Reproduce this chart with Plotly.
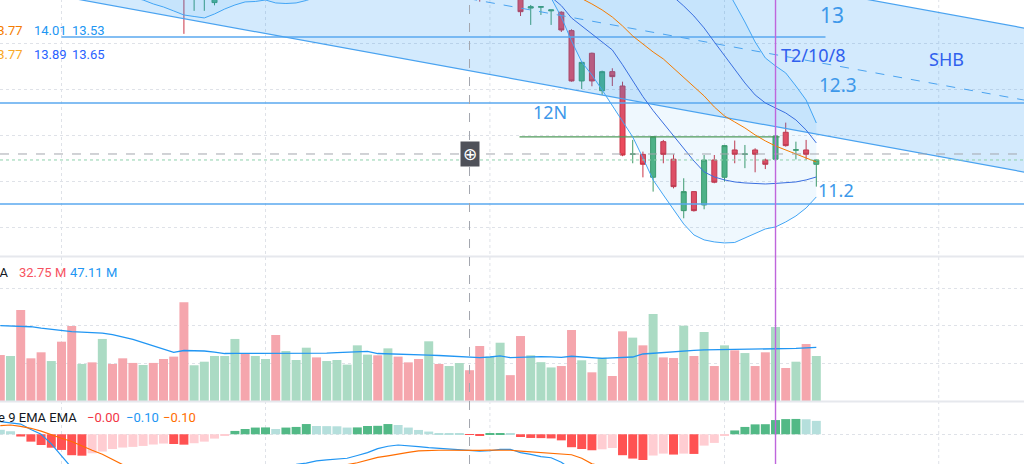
import plotly.graph_objects as go

W, H = 1024, 464

# ---- daily bars (index 0..80), prices ----
bars = list(range(81))
opens = [14.10, 14.02, 14.08, 13.92, 13.88, 13.80, 13.90, 13.80, 13.68, 13.76,
         13.70, 13.86, 13.82, 13.76, 13.70, 13.76, 13.72, 13.68, 13.62, 13.52,
         13.56, 13.45, 13.62, 13.70, 13.86, 13.78, 13.82, 13.90, 13.74, 13.80,
         13.84, 13.96, 13.86, 13.90, 13.92, 13.90, 13.98, 14.02, 13.90, 14.00,
         13.90, 13.84, 13.74, 13.86, 13.78, 13.80, 13.84, 13.78, 13.62, 13.66,
         13.74, 13.62, 13.39, 13.40, 13.36, 13.345, 13.145, 12.598, 12.899, 12.492,
         12.699, 12.543, 11.80, 11.80, 11.551, 11.938, 11.747, 11.188, 11.395, 11.25,
         11.739, 11.551, 11.848, 11.80, 11.848, 11.739, 11.747, 12.04, 11.845, 11.848,
         11.692]
highs = [14.14, 14.12, 14.10, 13.96, 13.92, 13.92, 13.93, 13.84, 13.80, 13.80,
         13.90, 13.88, 13.85, 13.78, 13.80, 13.79, 13.75, 13.72, 13.66, 13.66,
         13.70, 13.68, 13.78, 13.90, 13.90, 13.88, 13.92, 13.94, 13.86, 13.90,
         14.00, 13.98, 13.96, 13.98, 14.00, 14.06, 14.06, 14.06, 14.04, 14.02,
         13.92, 13.86, 13.90, 13.88, 13.86, 13.88, 13.86, 13.80, 13.74, 13.82,
         13.76, 13.66, 13.424, 13.405, 13.37, 13.355, 13.16, 12.81, 12.906, 12.71,
         12.736, 12.59, 11.957, 11.83, 12.0, 11.957, 11.80, 11.54, 11.395, 11.793,
         11.793, 11.902, 11.95, 11.902, 11.866, 11.754, 12.10, 12.145, 11.938, 11.957,
         11.746]
lows = [13.98, 13.99, 13.88, 13.82, 13.76, 13.78, 13.74, 13.62, 13.64, 13.66,
        13.68, 13.76, 13.70, 13.66, 13.67, 13.66, 13.62, 13.56, 13.11, 13.36,
        13.36, 13.42, 13.58, 13.66, 13.74, 13.74, 13.78, 13.70, 13.70, 13.76,
        13.80, 13.84, 13.82, 13.86, 13.88, 13.86, 13.94, 13.88, 13.86, 13.86,
        13.78, 13.72, 13.70, 13.76, 13.74, 13.76, 13.74, 13.46, 13.56, 13.60,
        13.60, 13.304, 13.207, 13.315, 13.207, 13.13, 12.59, 12.51, 12.54, 12.446,
        12.543, 11.78, 11.703, 11.55, 11.395, 11.703, 11.43, 11.105, 11.178, 11.203,
        11.486, 11.504, 11.703, 11.65, 11.605, 11.64, 11.65, 11.884, 11.745, 11.74,
        11.449]
closes = [14.02, 14.08, 13.92, 13.86, 13.80, 13.88, 13.78, 13.66, 13.76, 13.70,
          13.86, 13.80, 13.74, 13.70, 13.76, 13.70, 13.66, 13.60, 13.52, 13.62,
          13.66, 13.64, 13.74, 13.86, 13.78, 13.84, 13.88, 13.74, 13.82, 13.86,
          13.96, 13.88, 13.92, 13.94, 13.96, 14.02, 14.02, 13.92, 14.00, 13.90,
          13.82, 13.76, 13.86, 13.80, 13.82, 13.84, 13.78, 13.62, 13.70, 13.78,
          13.66, 13.351, 13.405, 13.405, 13.37, 13.152, 12.598, 12.80, 12.598, 12.699,
          12.645, 11.793, 11.805, 11.692, 11.993, 11.80, 11.449, 11.395, 11.188, 11.739,
          11.497, 11.895, 11.801, 11.805, 11.801, 11.692, 12.0, 11.895, 11.85, 11.801,
          11.739]

# volume in millions and its moving average
volume = [48.9, 47.9, 96.8, 45.4, 51.8, 42.5, 63.1, 79.8, 39.4, 41.1,
          66.0, 39.4, 45.4, 40.5, 38.3, 40.5, 44.7, 47.2, 105.0, 38.0,
          41.8, 47.9, 47.9, 66.0, 51.0, 47.9, 44.7, 70.2, 53.2, 43.6,
          56.7, 46.4, 42.5, 43.6, 38.7, 59.2, 49.3, 48.6, 56.0, 47.2,
          41.1, 44.7, 63.5, 39.4, 37.2, 40.4, 32.75, 58.5, 47.2, 62.0,
          27.5, 69.1, 48.6, 41.3, 35.7, 37.2, 75.5, 43.3, 30.5, 46.1,
          26.6, 74.1, 67.4, 59.2, 92.6, 46.4, 45.7, 80.1, 47.9, 73.4,
          37.2, 59.2, 53.9, 51.0, 37.2, 51.8, 78.7, 35.1, 41.8, 60.6,
          47.9]
volume_ma = [80.1, 80.0, 79.8, 79.0, 77.5, 76.0, 74.5, 73.8, 73.2, 72.7,
             72.3, 70.5, 68.4, 65.5, 62.2, 58.5, 55.0, 51.8, 53.7, 53.5,
             53.2, 52.0, 50.5, 50.6, 50.6, 50.7, 50.7, 50.7, 50.7, 50.8,
             50.8, 50.7, 51.0, 51.5, 52.0, 52.5, 52.7, 50.5, 50.3, 50.0,
             49.6, 49.2, 48.9, 48.4, 47.9, 47.5, 47.11, 46.1, 46.8, 47.9,
             46.1, 46.5, 46.9, 47.3, 46.9, 46.5, 47.6, 46.8, 46.0, 45.4,
             45.9, 46.3, 46.8, 50.0, 50.9, 51.8, 52.7, 53.2, 53.8, 54.3,
             54.4, 54.5, 54.6, 54.6, 54.7, 54.8, 55.0, 55.4, 55.9, 56.5,
             57.1]

# bollinger bands (2 sigma outer, 1 sigma inner)
bb_basis = [14.05, 14.04, 14.03, 14.02, 14.01, 14.0, 13.99, 13.98, 13.97, 13.96,
            13.95, 13.94, 13.93, 13.92, 13.91, 13.9, 13.89, 13.88, 13.87, 13.86,
            13.85, 13.84, 13.83, 13.83, 13.82, 13.82, 13.81, 13.81, 13.8, 13.8,
            13.8, 13.79, 13.79, 13.79, 13.79, 13.79, 13.78, 13.78, 13.78, 13.78,
            13.78, 13.78, 13.78, 13.78, 13.77, 13.77, 13.77, 13.77, 13.76, 13.75,
            13.74, 13.72, 13.7, 13.68, 13.65, 13.61, 13.554, 13.497, 13.435, 13.37,
            13.293, 13.196, 13.087, 13.0, 12.913, 12.837, 12.739, 12.641, 12.543, 12.435,
            12.315, 12.217, 12.152, 12.087, 12.011, 11.946, 11.891, 11.848, 11.804, 11.761,
            11.717]
bb_outer_up = [14.48, 14.47, 14.46, 14.44, 14.43, 14.42, 14.40, 14.38, 14.37, 14.35,
               14.34, 14.33, 14.33, 14.34, 14.34, 14.36, 14.37, 14.40, 14.43, 14.42,
               14.41, 14.35, 14.28, 14.24, 14.18, 14.17, 14.14, 14.16, 14.16, 14.15,
               14.13, 14.07, 14.05, 14.04, 14.02, 14.02, 14.0, 13.99, 13.99, 13.99,
               14.0, 14.0, 14.01, 14.01, 14.0, 14.0, 14.01, 14.01, 14.0, 13.99,
               13.98, 13.94, 13.94, 13.93, 13.93, 13.99, 14.09, 14.10, 14.09, 14.07,
               14.05, 14.10, 14.15, 14.14, 14.19, 14.24, 14.20, 14.10, 14.00, 13.93,
               13.84, 13.641, 13.446, 13.239, 13.022, 12.848, 12.761, 12.685, 12.543, 12.391,
               12.141]
bb_outer_lo = [13.62, 13.61, 13.6, 13.6, 13.59, 13.59, 13.58, 13.58, 13.57, 13.57,
               13.56, 13.55, 13.53, 13.5, 13.478, 13.435, 13.402, 13.359, 13.315, 13.299,
               13.283, 13.326, 13.38, 13.424, 13.457, 13.462, 13.478, 13.446, 13.44, 13.446,
               13.473, 13.511, 13.53, 13.54, 13.55, 13.56, 13.56, 13.57, 13.57, 13.57,
               13.56, 13.56, 13.55, 13.55, 13.54, 13.54, 13.53, 13.53, 13.52, 13.52,
               13.51, 13.51, 13.5, 13.5, 13.5, 13.293, 13.033, 12.804, 12.663, 12.5,
               12.326, 12.163, 11.989, 11.761, 11.522, 11.359, 11.196, 11.043, 10.924, 10.87,
               10.848, 10.837, 10.842, 10.891, 10.935, 10.989, 11.011, 11.065, 11.13, 11.217,
               11.337]
bb_inner_up = [14.27, 14.26, 14.25, 14.23, 14.22, 14.21, 14.19, 14.18, 14.17, 14.16,
               14.15, 14.14, 14.13, 14.13, 14.13, 14.13, 14.13, 14.14, 14.15, 14.14,
               14.13, 14.10, 14.06, 14.04, 14.0, 14.0, 13.98, 13.99, 13.98, 13.98,
               13.97, 13.93, 13.92, 13.92, 13.91, 13.91, 13.89, 13.89, 13.89, 13.89,
               13.89, 13.89, 13.89, 13.90, 13.88, 13.88, 13.89, 13.89, 13.88, 13.87,
               13.86, 13.83, 13.82, 13.81, 13.79, 13.80, 13.82, 13.80, 13.76, 13.72,
               13.68, 13.65, 13.62, 13.61, 13.60, 13.587, 13.511, 13.413, 13.304, 13.174,
               13.022, 12.87, 12.717, 12.576, 12.446, 12.359, 12.304, 12.25, 12.174, 12.065,
               11.924]
bb_inner_lo = [13.83, 13.82, 13.81, 13.81, 13.8, 13.79, 13.79, 13.78, 13.77, 13.76,
               13.75, 13.74, 13.73, 13.71, 13.69, 13.67, 13.65, 13.62, 13.59, 13.58,
               13.57, 13.58, 13.6, 13.62, 13.64, 13.64, 13.64, 13.63, 13.62, 13.62,
               13.63, 13.65, 13.66, 13.66, 13.67, 13.67, 13.67, 13.67, 13.67, 13.67,
               13.67, 13.67, 13.67, 13.66, 13.66, 13.66, 13.65, 13.65, 13.64, 13.63,
               13.62, 13.61, 13.58, 13.55, 13.51, 13.417, 13.283, 13.196, 13.109, 13.022,
               12.935, 12.774, 12.601, 12.428, 12.276, 12.138, 12.0, 11.859, 11.728, 11.609,
               11.554, 11.522, 11.5, 11.489, 11.484, 11.478, 11.484, 11.489, 11.5, 11.522,
               11.554]

# macd
macd = [0.079, 0.073, 0.064, 0.03, 0.0, -0.06, -0.13, -0.21, -0.25, -0.28,
        -0.30, -0.31, -0.32, -0.32, -0.32, -0.31, -0.30, -0.30, -0.30, -0.29,
        -0.27, -0.25, -0.23, -0.21, -0.205, -0.20, -0.195, -0.198, -0.195, -0.188,
        -0.18, -0.167, -0.16, -0.155, -0.15, -0.133, -0.115, -0.09, -0.075, -0.067,
        -0.071, -0.077, -0.084, -0.089, -0.094, -0.099, -0.1025, -0.105, -0.103, -0.095,
        -0.094, -0.115, -0.126, -0.14, -0.147, -0.175, -0.22, -0.24, -0.27, -0.29,
        -0.30, -0.36, -0.41, -0.45, -0.45, -0.46, -0.48, -0.49, -0.50, -0.46,
        -0.44, -0.40, -0.37, -0.34, -0.31, -0.29, -0.25, -0.23, -0.21, -0.20,
        -0.195]
signal = [0.054, 0.058, 0.05, 0.0375, 0.02, -0.004, -0.025, -0.045, -0.075, -0.10,
          -0.125, -0.16, -0.19, -0.215, -0.235, -0.245, -0.25, -0.255, -0.255, -0.25,
          -0.245, -0.24, -0.235, -0.23, -0.23, -0.23, -0.228, -0.225, -0.22, -0.215,
          -0.21, -0.205, -0.20, -0.195, -0.19, -0.178, -0.163, -0.145, -0.135, -0.123,
          -0.113, -0.104, -0.101, -0.10, -0.10, -0.101, -0.1025, -0.101, -0.099, -0.098,
          -0.10, -0.105, -0.109, -0.114, -0.119, -0.121, -0.128, -0.15, -0.185, -0.20,
          -0.22, -0.24, -0.26, -0.29, -0.32, -0.34, -0.36, -0.37, -0.38, -0.39,
          -0.39, -0.39, -0.39, -0.385, -0.37, -0.35, -0.34, -0.325, -0.31, -0.30,
          -0.28]
hist = [0.028, 0.019, -0.014, -0.046, -0.067, -0.084, -0.098, -0.131, -0.134, -0.119,
        -0.108, -0.092, -0.083, -0.079, -0.073, -0.064, -0.058, -0.061, -0.065, -0.056,
        -0.046, -0.027, -0.006, 0.021, 0.033, 0.042, 0.043, 0.033, 0.042, 0.046,
        0.064, 0.052, 0.051, 0.050, 0.042, 0.043, 0.052, 0.053, 0.064, 0.058,
        0.042, 0.027, 0.017, 0.008, 0.004, 0.002, -0.002, -0.008, 0.004, 0.008,
        0.003, -0.017, -0.023, -0.024, -0.026, -0.038, -0.081, -0.092, -0.100, -0.094,
        -0.086, -0.131, -0.152, -0.161, -0.133, -0.121, -0.127, -0.121, -0.123, -0.071,
        -0.054, -0.008, 0.024, 0.046, 0.062, 0.063, 0.089, 0.095, 0.096, 0.094,
        0.084]

# ---- drawings ----
channel_x = [-1, 101]
channel_lower = [13.660, 11.595]
channel_upper = [15.225, 13.160]
level_prices = [13.076, 12.359, 11.261]
level_from = [6, -1, -1]
level_to = [80.9, 101, 101]
range_top = 11.99
range_x = [50.9, 76.4]
labels = ['13', 'T2/10/8', '12.3', '12N', '11.2', 'SHB']
label_x = [81.5, 79.7, 82.1, 53.9, 81.9, 92.8]
label_y = [13.315, 12.88, 12.554, 12.261, 11.413, 12.837]
label_size = [21, 18, 19, 18, 18, 18]
label_dark = [False, True, False, False, False, True]
time_grid = [6, 26, 48, 71, 92]
marker_bar = 76
cross_bar = 46
cross_price = 11.804

# ---- colours ----
UP, DOWN = '#52b481', '#ec4a5c'
UP_LINE, DOWN_LINE = '#3f9a67', '#c93446'
VOL_UP, VOL_DOWN = '#abdbc4', '#f5a6ad'
BLUE = '#2196f3'
LIGHT_BLUE = '#42a5f5'
DARK_BLUE = '#3a6fe0'
ORANGE = '#f57c00'
GRID = '#dfe2e8'

X_RANGE = [-0.03, 100.36]
PRICE_RANGE = [10.695, 13.478]
VOL_RANGE = [0, 152.1]
MACD_RANGE = [-0.186, 0.202]


def fy(py):
    return 1 - py / H


def fx(px):
    return px / W


def hist_colors(h):
    cols = []
    for i, v in enumerate(h):
        prev = h[i - 1] if i else v
        if v >= 0:
            cols.append('#52b986' if v > prev else '#b5dfdc')
        else:
            cols.append('#ff5252' if v < prev else '#ffcdd2')
    return cols


def line(x, y, color, width=1.0, dash=None, axis='y'):
    return go.Scatter(x=x, y=y, mode='lines', yaxis=axis, hoverinfo='skip',
                      line=dict(color=color, width=width, dash=dash))


def main():
    fig = go.Figure()

    # channel drawing fill
    fig.add_trace(go.Scatter(
        x=[channel_x[0], channel_x[1], channel_x[1], channel_x[0]],
        y=[channel_lower[0], channel_lower[1], channel_upper[1], channel_upper[0]],
        fill='toself', fillcolor='rgba(33,150,243,0.2)', mode='none', hoverinfo='skip'))

    # bollinger fill
    fig.add_trace(line(bars, bb_outer_up, 'rgba(0,0,0,0)', 0))
    fig.add_trace(go.Scatter(x=bars, y=bb_outer_lo, mode='lines', fill='tonexty',
                             fillcolor='rgba(33,150,243,0.07)', hoverinfo='skip',
                             line=dict(width=0, color='rgba(0,0,0,0)')))

    # horizontal levels
    for p, a, b in zip(level_prices, level_from, level_to):
        fig.add_trace(line([a, b], [p, p], '#5aa9ef', 1.6))
    fig.add_trace(line(range_x, [range_top, range_top], '#4f9a5a', 1.2))

    # channel lines
    mid = [(a + b) / 2 for a, b in zip(channel_lower, channel_upper)]
    fig.add_trace(line(channel_x, channel_lower, '#4aa3f0', 1.2))
    fig.add_trace(line(channel_x, channel_upper, '#4aa3f0', 1.2))
    fig.add_trace(line(channel_x, mid, '#4aa3f0', 1.0, 'dash'))

    # bollinger lines
    fig.add_trace(line(bars, bb_outer_up, LIGHT_BLUE))
    fig.add_trace(line(bars, bb_outer_lo, LIGHT_BLUE))
    fig.add_trace(line(bars, bb_inner_up, DARK_BLUE))
    fig.add_trace(line(bars, bb_inner_lo, DARK_BLUE))
    fig.add_trace(line(bars, bb_basis, ORANGE))

    fig.add_trace(go.Candlestick(
        x=bars, open=opens, high=highs, low=lows, close=closes,
        increasing=dict(fillcolor=UP, line=dict(color=UP_LINE, width=1)),
        decreasing=dict(fillcolor=DOWN, line=dict(color=DOWN_LINE, width=1)),
        whiskerwidth=0, hoverinfo='skip'))

    # volume
    vcols = [VOL_UP if c >= o else VOL_DOWN for o, c in zip(opens, closes)]
    fig.add_trace(go.Bar(x=bars, y=volume, yaxis='y2', width=0.88,
                         marker=dict(color=vcols, line=dict(width=0)), hoverinfo='skip'))
    fig.add_trace(line(bars, volume_ma, BLUE, 1.3, axis='y2'))

    # macd
    fig.add_trace(go.Bar(x=bars, y=hist, yaxis='y3', width=0.88,
                         marker=dict(color=hist_colors(hist), line=dict(width=0)),
                         hoverinfo='skip'))
    fig.add_trace(line(bars, macd, BLUE, 1.2, axis='y3'))
    fig.add_trace(line(bars, signal, '#ff6d00', 1.2, axis='y3'))

    shapes = []
    for g in time_grid:
        shapes.append(dict(type='line', xref='x', yref='paper', x0=g, x1=g, y0=0, y1=1,
                           layer='below', line=dict(color=GRID, width=1, dash='dot')))
    for sep in (256.5, 401.5):
        shapes.append(dict(type='line', xref='paper', yref='paper', x0=0, x1=1,
                           y0=fy(sep), y1=fy(sep), line=dict(color='#e6e8ed', width=2)))
    # last price line
    shapes.append(dict(type='line', xref='paper', yref='y', x0=0, x1=1,
                       y0=closes[-1], y1=closes[-1],
                       line=dict(color='#8fd1ac', width=1, dash='dot')))
    # crosshair
    shapes.append(dict(type='line', xref='x', yref='paper', x0=cross_bar, x1=cross_bar,
                       y0=0, y1=1, line=dict(color='#a3a6ae', width=1, dash='dash')))
    shapes.append(dict(type='line', xref='paper', yref='y', x0=0, x1=1,
                       y0=cross_price, y1=cross_price,
                       line=dict(color='#a3a6ae', width=1, dash='dash')))
    # vertical marker
    shapes.append(dict(type='line', xref='x', yref='paper', x0=marker_bar, x1=marker_bar,
                       y0=0, y1=1, line=dict(color='#bf66dc', width=1.4)))

    ann = []
    for t, x, y, s, dk in zip(labels, label_x, label_y, label_size, label_dark):
        ann.append(dict(text=t, x=x, y=y, xref='x', yref='y', showarrow=False,
                        font=dict(size=s, color='#3060ee' if dk else '#3d98ea',
                                  family='Noto Sans')))
    ann.append(dict(text='⊕', x=cross_bar, y=cross_price, xref='x', yref='y',
                    showarrow=False, bgcolor='#4f5159', borderpad=2,
                    font=dict(size=17, color='white', family='DejaVu Sans')))

    def legend(text, px, py, color, anchor='left'):
        ann.append(dict(text=text, x=fx(px), y=fy(py), xref='paper', yref='paper',
                        xanchor=anchor, yanchor='middle', showarrow=False,
                        font=dict(size=13, color=color, family='Roboto')))

    legend('13.77', 25, 31, '#f57c00', 'right')
    legend('14.01', 32, 31, BLUE)
    legend('13.53', 70, 31, BLUE)
    legend('13.77', 25, 55, '#f9a825', 'right')
    legend('13.89', 32, 55, '#2962ff')
    legend('13.65', 70, 55, '#2962ff')
    legend('MA', 10, 272, '#131722', 'right')
    legend('32.75 M', 17, 272, '#f7525f')
    legend('47.11 M', 68, 272, BLUE)
    legend('close 9 EMA EMA', 79, 417, '#131722', 'right')
    legend('−0.00', 85, 417, '#f23645')
    legend('−0.10', 124, 417, BLUE)
    legend('−0.10', 161, 417, '#ff6d00')

    hidden = dict(showticklabels=False, ticks='', zeroline=False, showline=False,
                  fixedrange=True)
    fig.update_layout(
        width=W, height=H, margin=dict(l=0, r=0, t=0, b=0),
        paper_bgcolor='white', plot_bgcolor='white', showlegend=False,
        shapes=shapes, annotations=ann, barmode='overlay',
        xaxis=dict(range=X_RANGE, showgrid=False, rangeslider=dict(visible=False),
                   anchor='y3', **hidden),
        yaxis=dict(domain=[fy(256), 1], range=PRICE_RANGE, tickvals=[11, 11.5, 12, 12.5, 13],
                   gridcolor=GRID, griddash='dot', anchor='x', **hidden),
        yaxis2=dict(domain=[fy(401), fy(258)], range=VOL_RANGE, tickvals=[40, 80, 120],
                    gridcolor=GRID, griddash='dot', anchor='x', **hidden),
        yaxis3=dict(domain=[0, fy(402)], range=MACD_RANGE, tickvals=[0],
                    gridcolor=GRID, griddash='dot', anchor='x', **hidden),
    )
    # the page body has a default 8px margin; drop it so the chart fills the window
    fig.write_html('out.html', config={'displayModeBar': False},
                   post_script="document.body.style.margin='0';"
                               "document.body.style.overflow='hidden';")


if __name__ == '__main__':
    main()
